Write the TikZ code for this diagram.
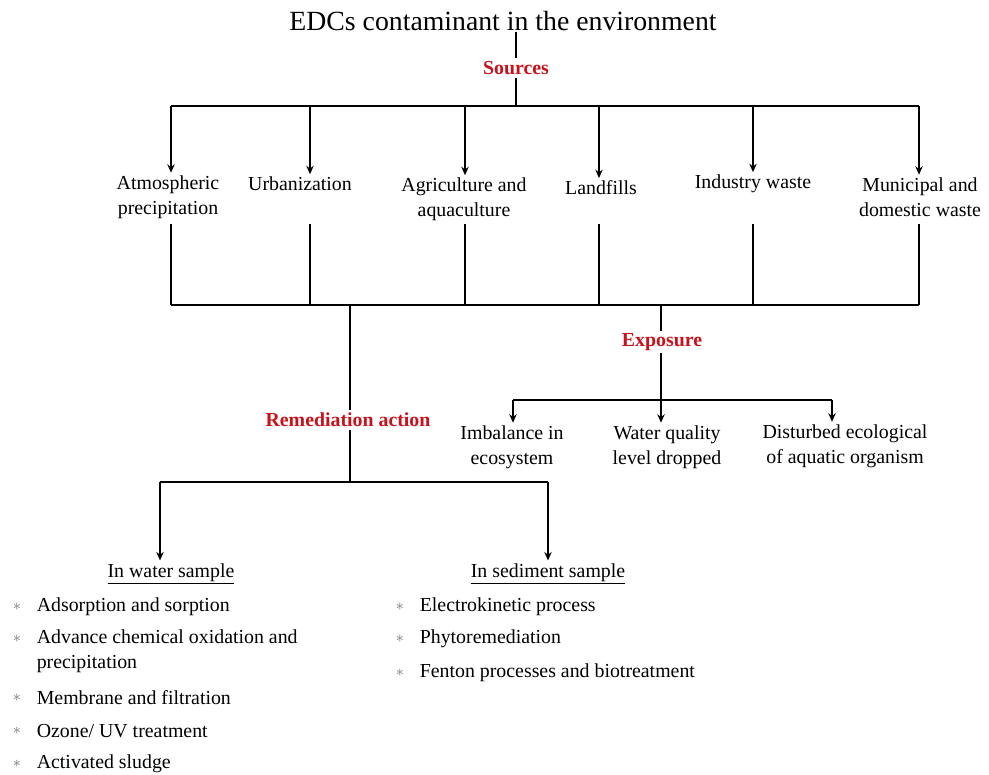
\documentclass[tikz,border=0pt]{standalone}
\usepackage{fontspec}
\setmainfont{Liberation Serif}
\usetikzlibrary{arrows.meta,positioning}
\definecolor{edcred}{RGB}{200,18,28}
\definecolor{bulgray}{RGB}{115,115,115}

\begin{document}
\begin{tikzpicture}[x=0.02cm, y=-0.02cm, line width=1.2pt,
    every node/.style={font=\fontsize{11.3}{14.2}\selectfont, align=center, inner sep=1pt},
    head/.style={font=\fontsize{11.3}{14}\selectfont\bfseries, text=edcred},
    arr/.style={-{Stealth[length=4.8pt,width=4.2pt]}},
    item/.style={anchor=west, align=left},
    dot/.style={font=\fontsize{9}{9}\selectfont, text=bulgray, inner sep=0pt}]
    \useasboundingbox (0,0) rectangle (989,774);

    % title and sources
    \node[font=\fontsize{15.8}{18}\selectfont, inner sep=0pt] (title) at (503,21) {EDCs contaminant in the environment};
    \node[head] (sources) at (516,68) {Sources};
    \draw (title.south -| sources) -- (sources.north);

    \foreach \i/\x in {1/171,2/310,3/465,4/599,5/753,6/919} {
        \coordinate (t\i) at (\x,106);
        \coordinate (u\i) at (\x,224);
        \coordinate (b\i) at (\x,305);
    }
    \draw (sources.south) -- (sources.south |- t1);
    \draw (t1) -- (t6);

    \node (atmo) at (168,197) {Atmospheric\\precipitation};
    \node (urban) at (300,184) {Urbanization};
    \node (agri) at (464,199.5) {Agriculture and\\aquaculture};
    \node (land) at (601,188) {Landfills};
    \node (indus) at (753,184) {Industry waste};
    \node (muni) at (920,197) {Municipal and\\domestic waste};

    \draw[arr] (t1) -- (t1 |- atmo.north);
    \draw[arr] (t2) -- (t2 |- urban.north);
    \draw[arr] (t3) -- (t3 |- agri.north);
    \draw[arr] (t4) -- (t4 |- land.north);
    \draw[arr] (t5) -- (t5 |- indus.north);
    \draw[arr] (t6) -- (t6 |- muni.north);

    \foreach \i in {1,...,6}
        \draw (u\i) -- (b\i);
    \draw (b1) -- (b6);

    % exposure
    \coordinate (expo0) at (661,305);
    \coordinate (ebar) at (661,400);
    \coordinate (e1) at (513,400);
    \coordinate (e3) at (832,400);
    \node[head] (expo) at (662,342) {Exposure};
    \draw (expo0) -- (expo.north -| expo0);
    \draw (expo.south -| ebar) -- (ebar);
    \draw (e1) -- (e3);

    \node (imb) at (512,447) {Imbalance in\\ecosystem};
    \node (wq) at (667,447) {Water quality\\level dropped};
    \node (dist) at (845,446) {Disturbed ecological\\of aquatic organism};

    \draw[arr] (e1) -- (e1 |- imb.north);
    \draw[arr] (ebar) -- (ebar |- wq.north);
    \draw[arr] (e3) -- (e3 |- dist.north);

    % remediation
    \coordinate (r0) at (350,305);
    \coordinate (rsplit) at (350,482);
    \coordinate (w0) at (160,482);
    \coordinate (s0) at (548,482);
    \node[head] (rem) at (348,420) {Remediation action};
    \draw (r0) -- (rem.north -| r0);
    \draw (rem.south -| rsplit) -- (rsplit);
    \draw (w0) -- (s0);

    \node (water) at (171,574) {\underline{In water sample}};
    \node (sedi) at (548,574) {\underline{In sediment sample}};
    \draw[arr] (w0) -- (w0 |- water.north);
    \draw[arr] (s0) -- (s0 |- sedi.north);

    % treatment lists
    \foreach \y/\txt in {607/{Adsorption and sorption}, 698/{Membrane and filtration},
                         731/{Ozone/ UV treatment}, 764/{Activated sludge}} {
        \node[dot] at (17,\y) {$\ast$};
        \node[item] at (34,\y) {\txt};
    }
    \node[dot] at (17,639) {$\ast$};
    \node[item] (wadv) at (34,651.5) {Advance chemical oxidation and\\precipitation};

    \foreach \y/\txt in {607/{Electrokinetic process}, 639/{Phytoremediation},
                         673/{Fenton processes and biotreatment}} {
        \node[dot] at (400,\y) {$\ast$};
        \node[item] at (417,\y) {\txt};
    }
\end{tikzpicture}
\end{document}
